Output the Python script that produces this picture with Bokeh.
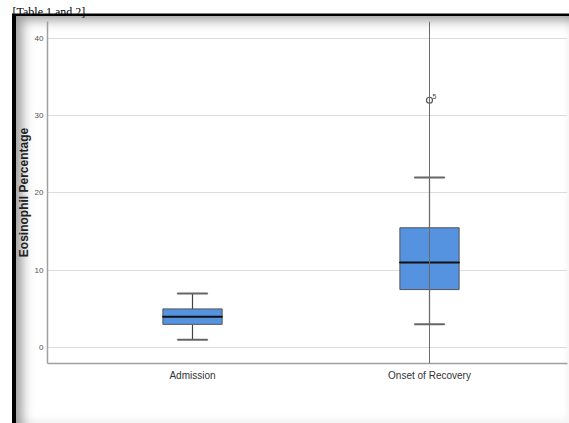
from bokeh.plotting import figure
from bokeh.models import (Range1d, FixedTicker, Span,
                          ColumnDataSource, LabelSet)
from bokeh.core.properties import value
from bokeh.embed import file_html
from bokeh.resources import INLINE

# ---- data ----
categories = ["Admission", "Onset of Recovery"]
cat_pos = [1, 2]
lower_whisker = [1, 3]
q1 = [3, 7.5]
median = [4, 11]
q3 = [5, 15.5]
upper_whisker = [7, 22]
outlier_pos = [2]
outlier_val = [32]
outlier_id = ["5"]
y_ticks = [0, 10, 20, 30, 40]

FONT = "Liberation Sans"

# pixel <-> data helpers (canvas pixel coordinates)
def X(px):
    return 1 + (px - 192) / 237.0

def Y(py):
    return (347 - py) / 7.75

p = figure(width=569, height=423, output_backend="svg", toolbar_location=None,
           x_range=Range1d(X(47), X(567)), y_range=Range1d(Y(363), Y(20)),
           min_border_left=47, min_border_right=2, min_border_top=20,
           min_border_bottom=60, title="[Table 1 and 2].")
p.outline_line_color = None
p.background_fill_color = None
p.border_fill_color = None
# screenshot frame (black edge + soft inner shadow)
p.styles = {
    "box-shadow": ("inset 12px 13.5px 0 0 #ffffff, "
                   "inset 16px 16px 0 0 #000000, "
                   "inset 22px 20px 12px 0 rgba(0,0,0,0.40), "
                   "inset -2px -4px 6px 0 rgba(0,0,0,0.05)"),
    "background-color": "#ffffff",
}

# caption fragment above the screenshot (as title)
p.title.text_font = "Liberation Serif"
p.title.text_font_size = "12px"
p.title.text_font_style = "normal"
p.title.text_color = "black"
p.title.align = "left"
p.title.offset = -35
p.title.standoff = 5

# grid
p.xgrid.visible = False
p.ygrid.ticker = FixedTicker(ticks=y_ticks)
p.ygrid.grid_line_color = "#dcdcdc"
p.ygrid.grid_line_width = 1

# axes
p.yaxis.ticker = FixedTicker(ticks=y_ticks)
p.yaxis.axis_label = "Eosinophil Percentage"
p.yaxis.axis_label_text_font = FONT
p.yaxis.axis_label_text_font_style = "bold"
p.yaxis.axis_label_text_font_size = "12px"
p.yaxis.axis_label_text_color = "#222222"
p.yaxis.axis_label_standoff = 1
p.yaxis.major_label_text_font = FONT
p.yaxis.major_label_text_font_size = "8px"
p.yaxis.major_label_text_color = "#505050"
p.yaxis.major_label_standoff = 4
p.yaxis.major_tick_out = 0
p.yaxis.major_tick_in = 0
p.yaxis.minor_tick_out = 0
p.yaxis.minor_tick_in = 0
p.yaxis.axis_line_color = "#a0a0a0"
p.yaxis.axis_line_width = 1.5

p.xaxis.ticker = FixedTicker(ticks=cat_pos)
p.xaxis.major_label_overrides = {c: n for c, n in zip(cat_pos, categories)}
p.xaxis.major_label_text_font = FONT
p.xaxis.major_label_text_font_size = "10px"
p.xaxis.major_label_text_color = "#333333"
p.xaxis.major_label_standoff = 6
p.xaxis.major_tick_out = 0
p.xaxis.major_tick_in = 0
p.xaxis.minor_tick_out = 0
p.xaxis.minor_tick_in = 0
p.xaxis.axis_line_color = "#a0a0a0"
p.xaxis.axis_line_width = 1.5

# stray vertical reference line through second category
p.add_layout(Span(location=cat_pos[1], dimension="height",
                  line_color="#6a6a6a", line_width=1))

src = ColumnDataSource(dict(x=cat_pos, lw=lower_whisker, q1=q1, med=median,
                            q3=q3, uw=upper_whisker))
# whiskers
p.segment("x", "q3", "x", "uw", source=src, line_color="#444444", line_width=1.2)
p.segment("x", "lw", "x", "q1", source=src, line_color="#444444", line_width=1.2)
# caps
p.rect("x", "uw", width=0.125, height=0.0001, source=src, fill_color=None,
       line_color="#666666", line_width=2)
p.rect("x", "lw", width=0.125, height=0.0001, source=src, fill_color=None,
       line_color="#666666", line_width=2)
# boxes
p.vbar(x="x", width=0.25, bottom="q1", top="q3", source=src,
       fill_color="#5592e0", line_color="#555555", line_width=1)
# median
p.rect("x", "med", width=0.25, height=0.0001, source=src, fill_color=None,
       line_color="#111111", line_width=2)

# outliers
osrc = ColumnDataSource(dict(x=outlier_pos, y=outlier_val, t=outlier_id))
p.scatter("x", "y", source=osrc, marker="circle", size=6, fill_color="white",
          line_color="#555555", line_width=1.2)
p.add_layout(LabelSet(x="x", y="y", text="t", source=osrc, x_offset=3,
                      y_offset=1, text_font=value(FONT), text_font_size="7px",
                      text_color="#444444"))

open("out.html", "w").write(file_html(p, INLINE))
